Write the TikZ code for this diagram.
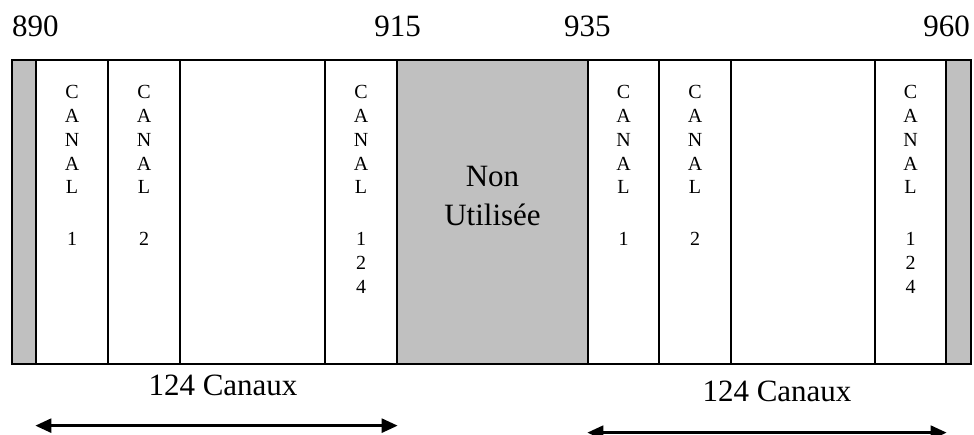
\documentclass[tikz,border=0pt]{standalone}
\usepackage{fontspec}
\setmainfont{Liberation Serif}
\usepackage{tikz}
\usetikzlibrary{arrows.meta,positioning,calc}
\definecolor{shade}{HTML}{C0C0C0}
\tikzset{
  band/.style={draw=black,line width=1.3pt,fill=white,inner sep=0pt,minimum height=304pt,minimum width=#1},
  guard/.style={band=#1,fill=shade},
  canal/.style={font=\fontsize{20}{23.8}\selectfont,align=center,inner sep=0pt,anchor=north},
  freq/.style={font=\fontsize{31}{38}\selectfont,anchor=base,inner sep=0pt},
  spanarrow/.style={{Triangle[length=16pt,width=14pt]}-{Triangle[length=16pt,width=14pt]},line width=2.6pt},
}
\begin{document}
\begin{tikzpicture}[x=1pt,y=1pt]
    \useasboundingbox (0,0) rectangle (974,435);
    % bande 890--960
    \foreach \n/\l/\r/\s in {ga/12/36/guard,ca/36/108/band,cb/108/180/band,va/180/325/band,cc/325/397/band,
      nu/397/588/guard,cd/588/659/band,ce/659/731/band,vb/731/875/band,cf/875/946/band,gb/946/971/guard}
      \node[\s=(\r-\l)*1pt] (\n) at ({(\l+\r)/2},223) {};
    \node[canal] (ta) at ($(ca.north)+(0,-26)$) {C\\A\\N\\A\\L\\[28pt]1};
    \node[canal] (tb) at ($(cb.north)+(0,-26)$) {C\\A\\N\\A\\L\\[28pt]2};
    \node[canal] (tc) at ($(cc.north)+(0,-26)$) {C\\A\\N\\A\\L\\[28pt]1\\2\\4};
    \node[canal] (td) at ($(cd.north)+(0,-26)$) {C\\A\\N\\A\\L\\[28pt]1};
    \node[canal] (te) at ($(ce.north)+(0,-26)$) {C\\A\\N\\A\\L\\[28pt]2};
    \node[canal] (tf) at ($(cf.north)+(0,-26)$) {C\\A\\N\\A\\L\\[28pt]1\\2\\4};
    \node[canal,font=\fontsize{31}{39}\selectfont] (tn) at ($(nu.north)+(0,-107)$) {Non\\Utilisée};
    % frequences
    \node[freq] (f890) at ($(ca.north west)+(0,23)$) {890};
    \node[freq] (f915) at ($(cc.north east)+(0,23)$) {915};
    \node[freq] (f935) at ($(cd.north west)+(0,23)$) {935};
    \node[freq] (f960) at ($(cf.north east)+(0,23)$) {960};
    \node[freq] (na) at (223,39) {124 Canaux};
    \node[freq] (nb) at (777,33) {124 Canaux};
    \coordinate (a1) at ($(ca.south west)+(0,-61)$);
    \coordinate (a2) at ($(cc.south east)+(0,-61)$);
    \coordinate (b1) at ($(cd.south west)+(0,-68)$);
    \coordinate (b2) at ($(cf.south east)+(0,-68)$);
    \foreach \x/\y in {a1/a2,b1/b2} \draw[spanarrow] (\x) -- (\y);
\end{tikzpicture}
\end{document}
